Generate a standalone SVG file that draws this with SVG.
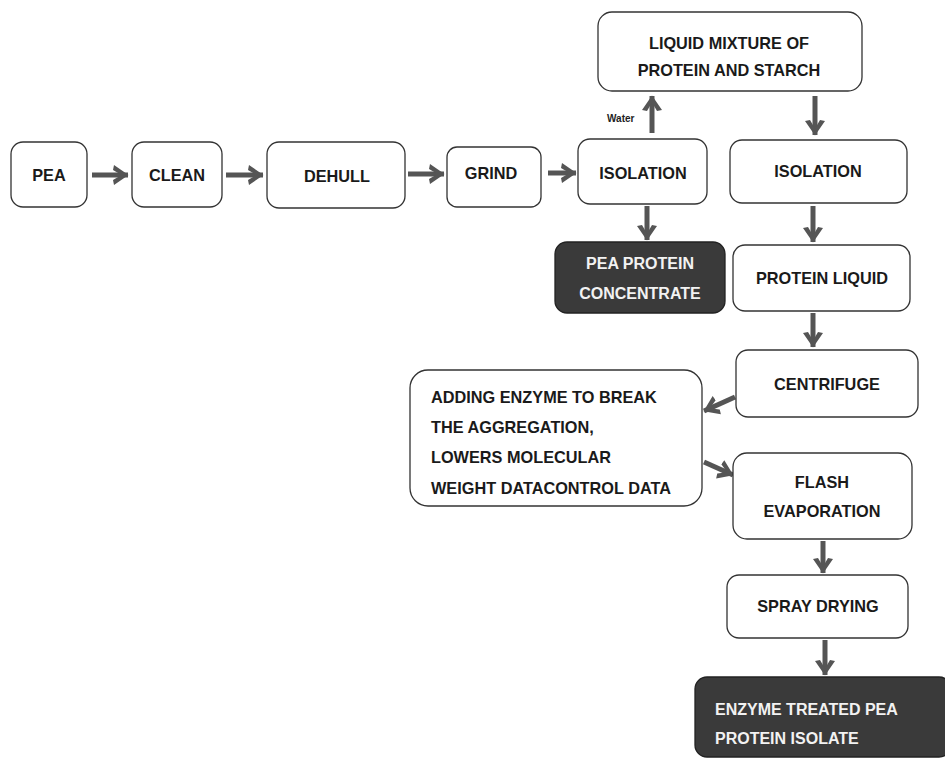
<svg xmlns="http://www.w3.org/2000/svg" width="945" height="765" viewBox="0 0 945 765">
<defs>
<style>
.box{fill:#fff;stroke:#333;stroke-width:1.3}
.dark{fill:#3a3a3a;stroke:#222;stroke-width:1.3}
.t{font-family:"Liberation Sans",Arial,sans-serif;font-size:16.3px;font-weight:bold;fill:#1a1a1a}
.tc{text-anchor:middle}
.tw{font-family:"Liberation Sans",Arial,sans-serif;font-size:16px;font-weight:bold;fill:#f2f2f2}
.small{font-family:"Liberation Sans",Arial,sans-serif;font-size:10px;font-weight:bold;fill:#222}
.arr{stroke:#555;stroke-width:5;fill:none;marker-end:url(#ah)}
</style>
<marker id="ah" viewBox="0 0 16 22" refX="15" refY="11" markerWidth="16" markerHeight="22" markerUnits="userSpaceOnUse" orient="auto">
<path d="M1,1 L15.5,11 L1,21 L0,16 L8.5,11 L0,6 Z" fill="#555"/>
</marker>
</defs>
<rect width="945" height="765" fill="#fff"/>

<g id="connectors">
<line class="arr" x1="92" y1="175" x2="128" y2="175"/>
<line class="arr" x1="226" y1="175" x2="263" y2="175"/>
<line class="arr" x1="408" y1="174" x2="444" y2="174"/>
<line class="arr" x1="548" y1="173" x2="576" y2="173"/>
<line class="arr" x1="652" y1="133" x2="652" y2="96"/>
<line class="arr" x1="815" y1="96" x2="815" y2="135"/>
<line class="arr" x1="647" y1="206" x2="647" y2="240"/>
<line class="arr" x1="813" y1="206" x2="813" y2="242"/>
<line class="arr" x1="813" y1="313" x2="813" y2="347"/>
<line class="arr" x1="735" y1="397" x2="704" y2="411"/>
<line class="arr" x1="704" y1="462" x2="733" y2="475"/>
<line class="arr" x1="823" y1="541" x2="823" y2="573"/>
<line class="arr" x1="825" y1="640" x2="825" y2="675"/>
<text class="small" x="607" y="122">Water</text>
</g>

<g id="pea"><rect class="box" x="11" y="142" width="76" height="65" rx="12"/><text class="t tc" x="49" y="181">PEA</text></g>
<g id="clean"><rect class="box" x="132" y="142" width="90" height="65" rx="12"/><text class="t tc" x="177" y="181">CLEAN</text></g>
<g id="dehull"><rect class="box" x="267" y="142" width="138" height="66" rx="12"/><text class="t tc" x="337" y="182">DEHULL</text></g>
<g id="grind"><rect class="box" x="447" y="147" width="94" height="60" rx="10"/><text class="t tc" x="491" y="179">GRIND</text></g>
<g id="isolation1"><rect class="box" x="578" y="139" width="129" height="65" rx="12"/><text class="t tc" x="643" y="179">ISOLATION</text></g>
<g id="liquid-mixture"><rect class="box" x="598" y="12" width="264" height="79" rx="14"/><text class="t tc" x="729" y="49">LIQUID MIXTURE OF</text><text class="t tc" x="729" y="76">PROTEIN AND STARCH</text></g>
<g id="isolation2"><rect class="box" x="730" y="140" width="177" height="63" rx="12"/><text class="t tc" x="818" y="177">ISOLATION</text></g>
<g id="pea-protein-concentrate"><rect class="dark" x="555" y="242" width="170" height="71" rx="12"/><text class="tw tc" x="640" y="269">PEA PROTEIN</text><text class="tw tc" x="640" y="299">CONCENTRATE</text></g>
<g id="protein-liquid"><rect class="box" x="733" y="245" width="177" height="66" rx="12"/><text class="t tc" x="822" y="284">PROTEIN LIQUID</text></g>
<g id="centrifuge"><rect class="box" x="736" y="350" width="182" height="67" rx="12"/><text class="t tc" x="827" y="390">CENTRIFUGE</text></g>
<g id="adding-enzyme"><rect class="box" x="410" y="370" width="292" height="136" rx="18"/>
<text class="t" x="431" y="403">ADDING ENZYME TO BREAK</text>
<text class="t" x="431" y="433">THE AGGREGATION,</text>
<text class="t" x="431" y="463">LOWERS MOLECULAR</text>
<text class="t" x="431" y="494">WEIGHT DATACONTROL DATA</text></g>
<g id="flash-evaporation"><rect class="box" x="733" y="453" width="179" height="86" rx="14"/><text class="t tc" x="822" y="488">FLASH</text><text class="t tc" x="822" y="517">EVAPORATION</text></g>
<g id="spray-drying"><rect class="box" x="727" y="575" width="181" height="63" rx="12"/><text class="t tc" x="818" y="612">SPRAY DRYING</text></g>
<g id="enzyme-treated-isolate"><rect class="dark" x="695" y="677" width="256" height="80" rx="12"/><text class="tw" x="715" y="715">ENZYME TREATED PEA</text><text class="tw" x="715" y="744">PROTEIN ISOLATE</text></g>
</svg>
